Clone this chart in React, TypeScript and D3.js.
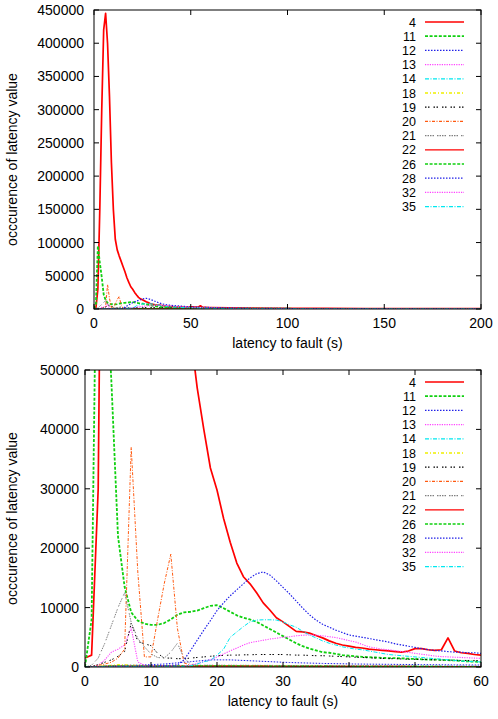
import React from "react";
import * as d3 from "d3";

// sample positions (s): 1 s bins up to 60, coarser after
const seconds = d3.range(0, 61);
const tailSeconds = [70, 80, 100, 120, 140, 160, 180, 200];
const latency = [...seconds, ...tailSeconds];

const seriesNames = ["4", "11", "12", "13", "14", "18", "19", "20", "21", "22", "26", "28", "32", "35"];

// occurrences per latency bin, one array per fault
const s4 = [
  1500, 2000, 30000, 150000, 300000, 420000, 445000, 400000, 320000, 220000,
  150000, 105000, 89000, 80000, 72000, 64000, 56000, 47000, 40000, 33500,
  29800, 25000, 21000, 17500, 15200, 14000, 12500, 10800, 9600, 8300,
  7600, 6800, 6000, 5900, 5700, 5300, 4900, 4400, 4000, 3700,
  3500, 3300, 3200, 3000, 2900, 2800, 2700, 2600, 2500, 2700,
  3100, 3100, 2900, 2800, 2900, 4900, 2700, 2400, 2300, 2100,
  2000,
  1600, 1300, 1000, 800, 700, 600, 500, 450,
];
const s11 = [
  0, 8000, 95000, 70000, 48000, 22000, 13500, 9200, 7800, 7300,
  7100, 7100, 7400, 8000, 8800, 9200, 9300, 9500, 9900, 10300,
  10400, 9900, 9300, 8700, 8300, 8000, 7600, 7000, 6400, 5800,
  5200, 4600, 4000, 3500, 3100, 2800, 2500, 2400, 2200, 2000,
  1900, 1800, 1700, 1650, 1600, 1550, 1500, 1500, 1450, 1400,
  1350, 1300, 1250, 1250, 1200, 1150, 1100, 1000, 950, 900,
  850,
  600, 450, 350, 250, 200, 150, 120, 100,
];
const s12 = [
  0, 0, 50, 100, 150, 200, 300, 300, 300, 350,
  400, 450, 500, 600, 700, 800, 900, 1000, 1100, 1200,
  1200, 1200, 1200, 1150, 1100, 1050, 1000, 950, 900, 850,
  800, 760, 720, 690, 660, 630, 600, 580, 560, 540,
  520, 500, 490, 480, 470, 460, 450, 440, 430, 420,
  410, 400, 390, 380, 370, 360, 350, 350, 340, 340,
  330,
  250, 200, 150, 120, 100, 80, 60, 50,
];
const s13 = [
  0, 0, 300, 1200, 2500, 3000, 3700, 6600, 850, 300,
  200, 150, 100, 100, 100, 100, 100, 100, 100, 100,
  90, 90, 90, 90, 90, 80, 80, 80, 80, 80,
  80, 70, 70, 70, 70, 70, 70, 60, 60, 60,
  60, 60, 60, 60, 50, 50, 50, 50, 50, 50,
  50, 50, 50, 40, 40, 40, 40, 40, 40, 40,
  40,
  30, 30, 20, 20, 20, 10, 10, 10,
];
const s14 = [
  0, 0, 50, 100, 150, 200, 200, 200, 200, 200,
  200, 200, 200, 200, 200, 200, 200, 200, 200, 200,
  200, 200, 200, 190, 190, 190, 180, 180, 180, 170,
  170, 170, 160, 160, 160, 150, 150, 150, 140, 140,
  140, 130, 130, 130, 120, 120, 120, 110, 110, 110,
  100, 100, 100, 100, 90, 90, 90, 90, 80, 80,
  80,
  60, 50, 40, 30, 30, 20, 20, 10,
];
const s18 = [
  0, 0, 100, 200, 300, 400, 400, 300, 300, 250,
  200, 200, 200, 150, 150, 150, 150, 150, 150, 150,
  150, 150, 150, 150, 150, 140, 140, 140, 140, 130,
  130, 130, 130, 120, 120, 120, 120, 110, 110, 110,
  100, 100, 100, 100, 100, 90, 90, 90, 90, 90,
  80, 80, 80, 80, 80, 70, 70, 70, 70, 70,
  60,
  50, 40, 30, 20, 20, 10, 10, 10,
];
const s19 = [
  0, 100, 400, 800, 1200, 1800, 2600, 7400, 4300, 3900,
  3600, 2300, 1500, 1500, 1400, 1400, 1500, 1600, 1700, 1800,
  1900, 1950, 2000, 2000, 2050, 2050, 2100, 2100, 2100, 2100,
  2100, 2050, 2000, 2000, 1950, 1900, 1900, 1850, 1800, 1750,
  1700, 1650, 1600, 1550, 1500, 1450, 1400, 1400, 1350, 1300,
  1300, 1250, 1250, 1200, 1200, 1150, 1150, 1100, 1100, 1100,
  1050,
  800, 600, 400, 300, 250, 200, 150, 120,
];
const s20 = [
  0, 0, 300, 500, 800, 1500, 3000, 37000, 16000, 1700,
  1700, 8000, 14000, 19000, 6500, 700, 300, 250, 200, 200,
  200, 200, 200, 200, 200, 180, 180, 180, 170, 170,
  160, 160, 150, 150, 150, 140, 140, 130, 130, 130,
  120, 120, 120, 110, 110, 110, 100, 100, 100, 100,
  90, 90, 90, 90, 80, 80, 80, 80, 70, 70,
  70,
  50, 40, 30, 20, 20, 10, 10, 10,
];
const s21 = [
  0, 300, 1500, 4000, 7000, 10000, 12500, 7500, 4800, 3400,
  2200, 1600, 1500, 2500, 4000, 1500, 500, 300, 300, 300,
  300, 300, 300, 290, 290, 280, 280, 270, 270, 260,
  260, 250, 250, 240, 240, 230, 230, 220, 220, 210,
  210, 200, 200, 200, 190, 190, 190, 180, 180, 180,
  170, 170, 170, 160, 160, 160, 160, 150, 150, 150,
  150,
  120, 100, 80, 60, 50, 40, 30, 20,
];
const s22 = [
  0, 0, 50, 100, 150, 150, 150, 150, 150, 150,
  150, 150, 150, 150, 150, 150, 150, 150, 150, 150,
  150, 150, 150, 150, 140, 140, 140, 140, 130, 130,
  130, 130, 120, 120, 120, 120, 110, 110, 110, 110,
  100, 100, 100, 100, 100, 90, 90, 90, 90, 90,
  80, 80, 80, 80, 80, 70, 70, 70, 70, 70,
  60,
  50, 40, 30, 20, 20, 10, 10, 10,
];
const s26 = [
  0, 0, 100, 150, 200, 200, 200, 200, 200, 200,
  200, 200, 200, 200, 200, 200, 190, 190, 190, 190,
  180, 180, 180, 180, 170, 170, 170, 170, 160, 160,
  160, 150, 150, 150, 150, 140, 140, 140, 130, 130,
  130, 120, 120, 120, 110, 110, 110, 100, 100, 100,
  100, 90, 90, 90, 90, 80, 80, 80, 80, 80,
  70,
  50, 40, 30, 20, 20, 10, 10, 10,
];
const s28 = [
  0, 0, 0, 0, 0, 50, 100, 100, 150, 150,
  200, 200, 250, 300, 350, 1200, 2800, 4500, 6200, 7800,
  9500, 10800, 12000, 13000, 14000, 15000, 15700, 16000, 15500, 14500,
  13400, 12300, 11100, 9900, 8800, 7900, 7200, 6700, 6200, 5800,
  5400, 5200, 5000, 4800, 4600, 4400, 4200, 3900, 3700, 3500,
  3300, 3100, 2900, 2800, 2700, 2600, 2500, 2500, 2400, 2400,
  2300,
  1600, 1200, 800, 600, 450, 350, 300, 250,
];
const s32 = [
  0, 0, 50, 100, 100, 100, 100, 100, 100, 100,
  100, 100, 100, 100, 100, 150, 300, 600, 900, 1200,
  1700, 2200, 2700, 3200, 3700, 4100, 4300, 4500, 4700, 4850,
  5000, 5100, 5250, 5350, 5400, 5350, 5250, 5100, 4950, 4700,
  4450, 4200, 3800, 3400, 3200, 3000, 2900, 2750, 2600, 2450,
  2300, 2150, 2000, 1850, 1750, 1700, 1650, 1600, 1550, 1500,
  1450,
  1000, 700, 500, 350, 250, 200, 150, 120,
];
const s35 = [
  0, 0, 0, 50, 50, 50, 50, 50, 50, 50,
  50, 50, 50, 50, 50, 100, 200, 500, 900, 1100,
  2000, 3000, 5000, 5900, 6800, 7600, 7900, 7950, 7950, 7900,
  7600, 7100, 6700, 6000, 5400, 4900, 4400, 4000, 3700, 3400,
  3200, 3000, 2900, 2700, 2500, 2300, 2100, 2000, 1900, 1800,
  1700, 1600, 1500, 1400, 1300, 1200, 1100, 1000, 950, 900,
  850,
  600, 400, 300, 200, 150, 120, 100, 80,
];

const counts = [s4, s11, s12, s13, s14, s18, s19, s20, s21, s22, s26, s28, s32, s35];

// gnuplot-like line types, cycling after nine
const colors = ["#ff0000", "#10d010", "#2020e8", "#ff40ff", "#00e8f0", "#f0f000", "#000000", "#ff5a10", "#808080",
  "#ff0000", "#10d010", "#2020e8", "#ff40ff", "#00e8f0"];
const dashes = ["none", "3,1.6", "1.5,1.5", "1.2,1.2", "4,1.5,1,1.5", "3,2,1,2", "1.5,1.5,1.5,4", "3,1.5,1,1.5", "1.5,1,1.5,1,1.5,1,1.5,3",
  "none", "3,1.6", "1.5,1.5", "1.2,1.2", "4,1.5,1,1.5"];
const widths = [1.7, 1.8, 1, 1.1, 1, 1, 1, 1, 1, 1.2, 1.2, 1.2, 1.1, 1];

const FONT = "'Liberation Sans', Arial, Helvetica, sans-serif";

type PanelProps = {
  id: string;
  left: number;
  right: number;
  top: number;
  bottom: number;
  xMax: number;
  xStep: number;
  yMax: number;
  yStep: number;
  labelRight: number;
};

function Panel({ id, left, right, top, bottom, xMax, xStep, yMax, yStep, labelRight }: PanelProps) {
  const x = d3.scaleLinear().domain([0, xMax]).range([left, right]);
  const y = d3.scaleLinear().domain([0, yMax]).range([bottom, top]);
  const xTicks = d3.range(0, xMax + 1, xStep);
  const yTicks = d3.range(0, yMax + 1, yStep);
  const tick = 5;

  const line = d3
    .line<number>()
    .x((_, i) => x(latency[i]))
    .y((d) => y(d))
    .defined((_, i) => latency[i] <= xMax);

  const legendTop = top + 12;
  const legendRow = 14.2;

  return (
    <g>
      <defs>
        <clipPath id={id}>
          <rect x={left} y={top} width={right - left} height={bottom - top} />
        </clipPath>
      </defs>

      <g clipPath={`url(#${id})`} fill="none">
        {counts.map((c, i) => (
          <path
            key={seriesNames[i]}
            d={line(c) || ""}
            stroke={colors[i]}
            strokeWidth={widths[i]}
            strokeDasharray={dashes[i]}
            strokeLinejoin="round"
          />
        ))}
      </g>

      <rect x={left} y={top} width={right - left} height={bottom - top} fill="none" stroke="#000" strokeWidth={1} />

      {xTicks.map((t) => (
        <g key={"x" + t}>
          <line x1={x(t)} x2={x(t)} y1={bottom} y2={bottom - tick} stroke="#000" />
          <line x1={x(t)} x2={x(t)} y1={top} y2={top + tick} stroke="#000" />
          <text x={x(t)} y={bottom + 19} textAnchor="middle" fontSize={14} fontFamily={FONT}>
            {t}
          </text>
        </g>
      ))}
      {yTicks.map((t) => (
        <g key={"y" + t}>
          <line x1={left} x2={left + tick} y1={y(t)} y2={y(t)} stroke="#000" />
          <line x1={right} x2={right - tick} y1={y(t)} y2={y(t)} stroke="#000" />
          <text x={labelRight} y={y(t) + 5} textAnchor="end" fontSize={14} fontFamily={FONT}>
            {t}
          </text>
        </g>
      ))}

      <text x={(left + right) / 2} y={bottom + 39} textAnchor="middle" fontSize={14} fontFamily={FONT}>
        latency to fault (s)
      </text>
      <text
        transform={`translate(12, ${(top + bottom) / 2}) rotate(-90)`}
        textAnchor="middle"
        dominantBaseline="central"
        fontSize={14}
        fontFamily={FONT}
      >
        occcurence of latency value
      </text>

      {seriesNames.map((name, i) => {
        const ly = legendTop + i * legendRow;
        return (
          <g key={"leg" + name}>
            <text x={416} y={ly + 4.5} textAnchor="end" fontSize={12.5} fontFamily={FONT}>
              {name}
            </text>
            <line
              x1={425}
              x2={464}
              y1={ly}
              y2={ly}
              stroke={colors[i]}
              strokeWidth={Math.max(widths[i], 1.3)}
              strokeDasharray={dashes[i]}
            />
          </g>
        );
      })}
    </g>
  );
}

export default function App() {
  return (
    <svg
      width={498}
      height={719}
      style={{ position: "absolute", left: 0, top: 0, background: "#fff" }}
    >
      <Panel id="full" left={94} right={481} top={10} bottom={309} xMax={200} xStep={50} yMax={450000} yStep={50000} labelRight={84} />
      <Panel id="zoomed" left={85} right={481} top={370} bottom={667} xMax={60} xStep={10} yMax={50000} yStep={10000} labelRight={79} />
    </svg>
  );
}
